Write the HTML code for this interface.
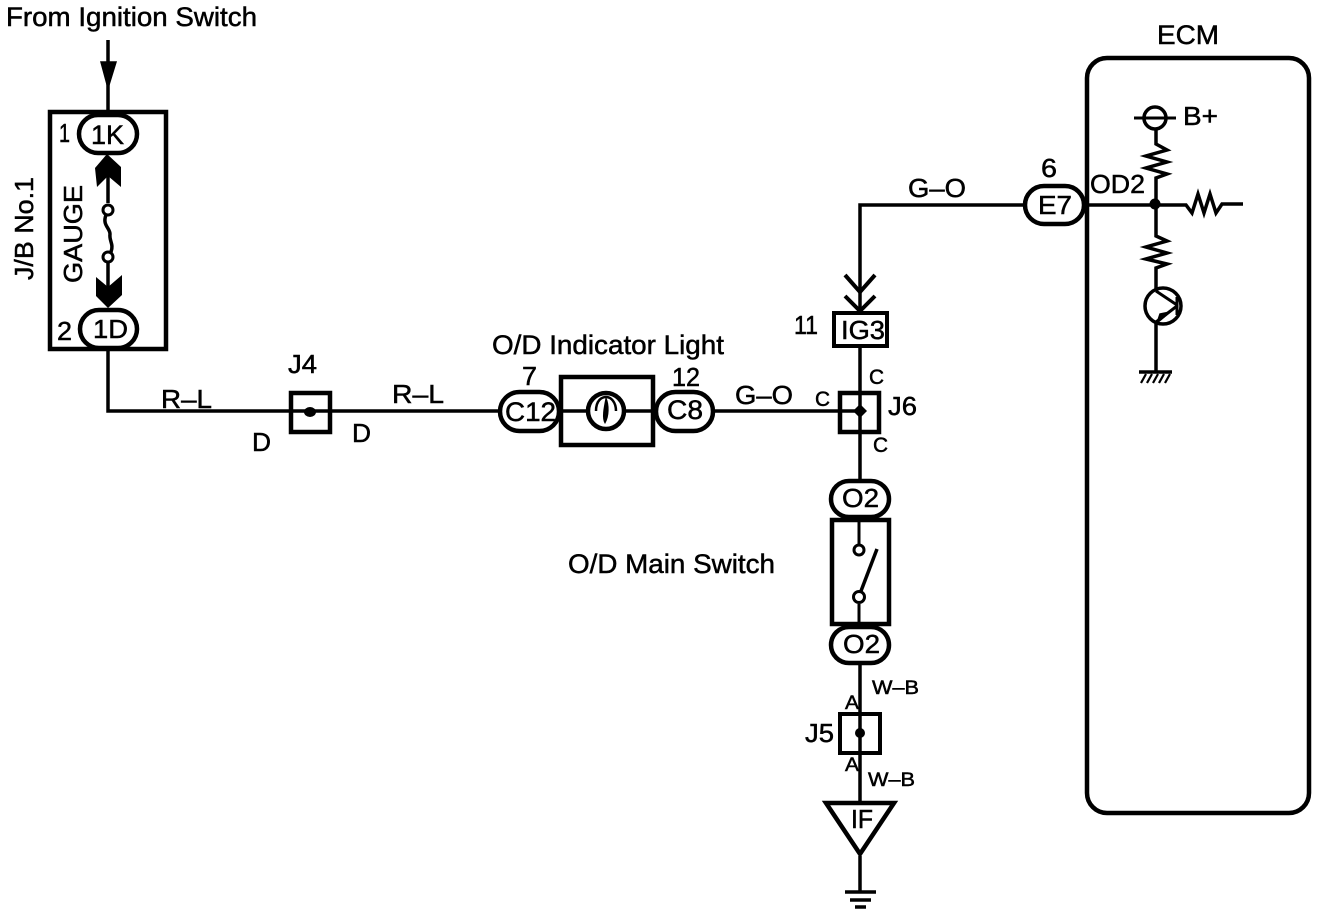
<!DOCTYPE html>
<html><head><meta charset="utf-8"><style>
html,body{margin:0;padding:0;background:#fff}
svg{display:block}
text{font-family:"Liberation Sans",sans-serif;fill:#000;stroke:#000;stroke-width:.5px}
</style></head><body>
<svg width="1328" height="916" viewBox="0 0 1328 916" xmlns="http://www.w3.org/2000/svg">
<g fill="none" stroke="#000" stroke-width="3.5">
<!-- top input -->
<path d="M108 40V112"/>
<path d="M101 62H116L108 88Z" fill="#000" stroke-width="1.5"/>
<!-- J/B box -->
<rect x="50" y="112" width="116" height="237" stroke-width="4.5"/>
<rect x="79" y="115" width="58" height="38" rx="19" fill="#fff" stroke-width="4.5"/>
<rect x="80" y="310" width="57" height="38" rx="19" fill="#fff" stroke-width="4.5"/>
<path d="M108 170V203M108 262V290"/>
<path d="M107 154L121 167V187L108 176L97 187L95 168Z" fill="#000" stroke="none"/>
<path d="M96 277L108 287L122 275V295L108 308L96 296Z" fill="#000" stroke="none"/>
<circle cx="108" cy="210" r="5" fill="#fff" stroke-width="3"/>
<circle cx="108" cy="257" r="5" fill="#fff" stroke-width="3"/>
<path d="M106 215C102 225 110 228 110 234C109 241 114 244 111 252" stroke-width="3.5"/>
<!-- R-L wire -->
<path d="M108 349V411H291"/>
<rect x="291" y="393" width="39" height="39" stroke-width="4.5" fill="#fff"/>
<path d="M291 411H502"/>
<ellipse cx="310" cy="412" rx="6" ry="5" fill="#000" stroke="none"/>
<!-- indicator -->
<rect x="500" y="392" width="59" height="39" rx="19.5" fill="#fff" stroke-width="4.5"/>
<rect x="561" y="377" width="92" height="68" fill="#fff" stroke-width="4.5"/>
<rect x="656" y="392" width="57" height="39" rx="19.5" fill="#fff" stroke-width="4.5"/>
<path d="M561 411H587M625 411H653"/>
<circle cx="606" cy="411" r="18" fill="#fff" stroke-width="4.5"/>
<path d="M596 411C596 400 602 397 606 397C611 397 616 402 616 411" stroke-width="2.5"/>
<path d="M606 398C604 408 602 418 605 423C609 416 609 405 606 398Z" fill="#000" stroke-width="1"/>
<!-- G-O to J6 -->
<path d="M713 411H840"/>
<rect x="840" y="393" width="39" height="39" stroke-width="4.5" fill="#fff"/>
<path d="M840 411H860M860 346V498"/>
<path d="M853 411L860 404L867 411L860 418Z" fill="#000" stroke="none"/>
<!-- IG3 -->
<rect x="834" y="313" width="53" height="33" fill="#fff" stroke-width="4"/>
<!-- G-O top -->
<path d="M1024 205H860V311"/>
<path d="M845 275L860 292L875 275M845 296L860 311L875 296" stroke-width="4"/>
<rect x="1025" y="186" width="59" height="38" rx="19" fill="#fff" stroke-width="4.5"/>
<!-- switch -->
<rect x="831" y="481" width="58" height="36" rx="18" fill="#fff" stroke-width="4.5"/>
<rect x="832" y="520" width="57" height="104" fill="#fff" stroke-width="4.5"/>
<rect x="831" y="627" width="58" height="36" rx="18" fill="#fff" stroke-width="4.5"/>
<path d="M859 522V545M859 604V622" stroke-width="3"/>
<circle cx="859" cy="550" r="5" fill="#fff" stroke-width="3"/>
<circle cx="859" cy="597" r="5.5" fill="#fff" stroke-width="3"/>
<path d="M861 591L877 549" stroke-width="3.5"/>
<!-- J5 -->
<path d="M860 663V714"/>
<rect x="840" y="714" width="40" height="39" fill="#fff" stroke-width="4"/>
<path d="M860 714V802"/>
<circle cx="860" cy="733" r="5" fill="#000" stroke="none"/>
<!-- triangle -->
<path d="M826 803H894L860 854Z" fill="#fff" stroke-width="4.5"/>
<path d="M860 856V892"/>
<path d="M845 892H876M850 900H871M855 907H866" stroke-width="3.5"/>
<!-- ECM -->
<rect x="1087" y="58" width="222" height="755" rx="20" stroke-width="4.5"/>
<path d="M1085 205H1186L1192 213L1198 194L1204 213L1210 194L1216 213L1222 204H1243"/>
<circle cx="1155" cy="204" r="5.5" fill="#000" stroke="none"/>
<circle cx="1155" cy="118" r="11" stroke-width="3.5"/>
<path d="M1134 118H1176" stroke-width="3"/>
<path d="M1156 129V144L1167 150L1146 156L1167 162L1146 168L1167 174L1156 178V204"/>
<path d="M1156 204V236L1167 241L1146 247L1167 253L1146 259L1167 264L1156 268V296"/>
<circle cx="1163" cy="306" r="18" fill="#fff" stroke-width="3.5"/>
<path d="M1156 291L1177 305M1156 322L1177 306M1177 297V315" stroke-width="3"/>
<path d="M1157 323L1160 314L1170 312Z" fill="#000" stroke-width="1.5"/>
<path d="M1156 322V373"/>
<path d="M1139 372H1172" stroke-width="3.5"/>
<path d="M1141 383L1146 374M1147 383L1152 374M1153 383L1158 374M1159 383L1164 374M1165 383L1170 374" stroke-width="2.2"/>
</g>
<g font-size="26">
<text x="6" y="26" font-size="27" textLength="251" lengthAdjust="spacingAndGlyphs">From Ignition Switch</text>
<text x="59" y="142" textLength="11" lengthAdjust="spacingAndGlyphs">1</text>
<text x="91" y="144" font-size="27" textLength="33" lengthAdjust="spacingAndGlyphs">1K</text>
<text x="57" y="340" textLength="15" lengthAdjust="spacingAndGlyphs">2</text>
<text x="93" y="338" textLength="35" lengthAdjust="spacingAndGlyphs">1D</text>
<text transform="translate(33 280) rotate(-90)" textLength="103" lengthAdjust="spacingAndGlyphs">J/B No.1</text>
<text transform="translate(82 283) rotate(-90)" textLength="98" lengthAdjust="spacingAndGlyphs">GAUGE</text>
<text x="161" y="408" textLength="51" lengthAdjust="spacingAndGlyphs">R–L</text>
<text x="392" y="403" textLength="52" lengthAdjust="spacingAndGlyphs">R–L</text>
<text x="288" y="373" textLength="29" lengthAdjust="spacingAndGlyphs">J4</text>
<text x="252" y="451" textLength="19" lengthAdjust="spacingAndGlyphs">D</text>
<text x="352" y="442" textLength="19" lengthAdjust="spacingAndGlyphs">D</text>
<text x="492" y="354" font-size="27" textLength="232" lengthAdjust="spacingAndGlyphs">O/D Indicator Light</text>
<text x="522" y="385" textLength="15" lengthAdjust="spacingAndGlyphs">7</text>
<text x="672" y="386" textLength="28" lengthAdjust="spacingAndGlyphs">12</text>
<text x="505" y="421" font-size="27" textLength="51" lengthAdjust="spacingAndGlyphs">C12</text>
<text x="667" y="419" font-size="27" textLength="36" lengthAdjust="spacingAndGlyphs">C8</text>
<text x="735" y="404" textLength="58" lengthAdjust="spacingAndGlyphs">G–O</text>
<text x="815" y="406" font-size="21" textLength="15" lengthAdjust="spacingAndGlyphs">C</text>
<text x="869" y="384" font-size="21" textLength="15" lengthAdjust="spacingAndGlyphs">C</text>
<text x="873" y="452" font-size="21" textLength="15" lengthAdjust="spacingAndGlyphs">C</text>
<text x="888" y="415" textLength="29" lengthAdjust="spacingAndGlyphs">J6</text>
<text x="794" y="334" textLength="24" lengthAdjust="spacingAndGlyphs">11</text>
<text x="841" y="339" textLength="44" lengthAdjust="spacingAndGlyphs">IG3</text>
<text x="908" y="197" textLength="58" lengthAdjust="spacingAndGlyphs">G–O</text>
<text x="1041" y="177" textLength="16" lengthAdjust="spacingAndGlyphs">6</text>
<text x="1038" y="214" textLength="34" lengthAdjust="spacingAndGlyphs">E7</text>
<text x="1157" y="44" font-size="27" textLength="62" lengthAdjust="spacingAndGlyphs">ECM</text>
<text x="1090" y="193" textLength="55" lengthAdjust="spacingAndGlyphs">OD2</text>
<text x="1183" y="125" textLength="35" lengthAdjust="spacingAndGlyphs">B+</text>
<text x="568" y="573" font-size="27" textLength="207" lengthAdjust="spacingAndGlyphs">O/D Main Switch</text>
<text x="842" y="507" textLength="37" lengthAdjust="spacingAndGlyphs">O2</text>
<text x="843" y="653" textLength="37" lengthAdjust="spacingAndGlyphs">O2</text>
<text x="872" y="694" font-size="19" textLength="47" lengthAdjust="spacingAndGlyphs">W–B</text>
<text x="845" y="709" font-size="19" textLength="14" lengthAdjust="spacingAndGlyphs">A</text>
<text x="845" y="771" font-size="19" textLength="14" lengthAdjust="spacingAndGlyphs">A</text>
<text x="868" y="786" font-size="19" textLength="47" lengthAdjust="spacingAndGlyphs">W–B</text>
<text x="805" y="742" textLength="29" lengthAdjust="spacingAndGlyphs">J5</text>
<text x="851" y="828" textLength="22" lengthAdjust="spacingAndGlyphs">IF</text>
</g>
</svg>
</body></html>
